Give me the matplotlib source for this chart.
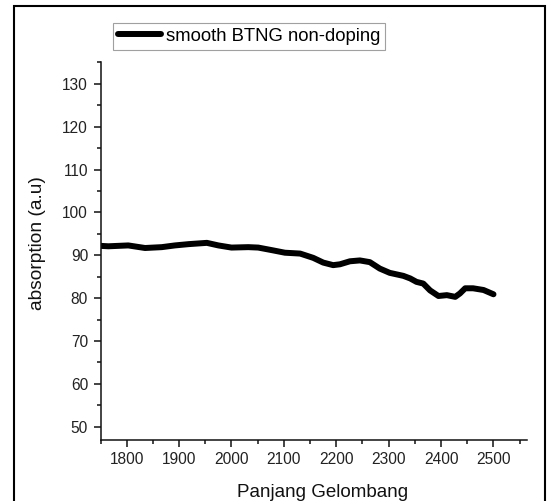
import matplotlib
matplotlib.use("Agg")
import matplotlib.pyplot as plt
from matplotlib.patches import Rectangle
from matplotlib.ticker import MultipleLocator

plt.rcParams['font.family'] = ['Liberation Sans', 'DejaVu Sans']

wavelength = [1750, 1765, 1803, 1835, 1867, 1892, 1918, 1953, 1975, 2000, 2032,
              2051, 2077, 2102, 2131, 2156, 2175, 2194, 2207, 2226, 2245, 2264,
              2283, 2302, 2328, 2341, 2353, 2366, 2379, 2395, 2411, 2427, 2436,
              2446, 2461, 2481, 2500]
absorption = [92.2, 92.1, 92.3, 91.7, 91.9, 92.3, 92.6, 92.9, 92.3, 91.8, 91.9,
              91.8, 91.2, 90.6, 90.4, 89.4, 88.3, 87.7, 87.9, 88.6, 88.8, 88.4,
              86.9, 85.9, 85.2, 84.6, 83.8, 83.4, 81.8, 80.5, 80.7, 80.3, 81.1,
              82.3, 82.3, 81.9, 80.9]
series_label = "smooth BTNG non-doping"
x_label = "Panjang Gelombang"
y_label = "absorption (a.u)"

W, H = 547, 501
fig = plt.figure(figsize=(W / 100, H / 100), dpi=100)
left, right, top, bottom = 100.5, 526.5, 62, 440
ax = fig.add_axes([left / W, 1 - bottom / H, (right - left) / W, (bottom - top) / H])

line, = ax.plot(wavelength, absorption, color='black', lw=4.3,
                solid_capstyle='round', solid_joinstyle='round')

ax.set_xlim(1750, 2563)
ax.set_ylim(46.9, 135.1)
ax.xaxis.set_minor_locator(MultipleLocator(50))
ax.yaxis.set_minor_locator(MultipleLocator(5))
ax.set_xticks([t for t in range(1800, 2501, 100)])
ax.set_yticks([t for t in range(50, 131, 10)])

for s in ['top', 'right']:
    ax.spines[s].set_visible(False)
for s in ['left', 'bottom']:
    ax.spines[s].set_linewidth(1.1)
    ax.spines[s].set_color('#111111')

ax.tick_params(which='major', direction='out', length=5, width=1.1, color='#111111',
               labelsize=11.2, labelcolor='#222222', pad=4)
ax.tick_params(which='minor', direction='out', length=3, width=1.1, color='#111111')

fig.text(323 / W, 1 - 497 / H, x_label, ha='center', va='baseline', fontsize=13.5,
         color='#111111')
fig.text(38 / W, 1 - 243 / H, y_label, ha='center', va='center', rotation=90,
         fontsize=13.8, color='#111111')

leg = fig.legend([line], [series_label], loc='upper left',
                 bbox_to_anchor=(113 / W, 1 - 23.3 / H), bbox_transform=fig.transFigure,
                 fontsize=13.3, frameon=True, fancybox=False, borderpad=0.25,
                 handlelength=2.35, handletextpad=0.27, borderaxespad=0)
leg.get_frame().set_edgecolor('#888888')
leg.get_frame().set_linewidth(0.8)

border = Rectangle((14 / W, -0.1), (545 - 14) / W, 0.1 + 1 - 6 / H, transform=fig.transFigure,
                   fill=False, edgecolor='black', linewidth=1.5, clip_on=False)
fig.patches.append(border)

fig.savefig("out.png", dpi=100)
